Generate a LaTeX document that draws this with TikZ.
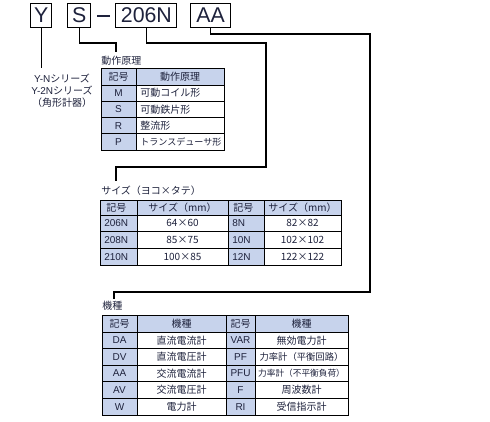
\documentclass[tikz,border=0pt]{standalone}
\usepackage{fontspec}
\setmainfont{Liberation Sans}
\newfontfamily\jp{Noto Sans CJK JP}
\definecolor{hdr}{RGB}{199,211,236}
\definecolor{ink}{RGB}{30,34,60}
\tikzset{
  codebox/.style={draw, line width=0.8pt, inner sep=0pt, minimum height=18pt, text=ink, font=\fontsize{16}{16}\selectfont},
  cell/.style={inner sep=0pt, text=ink, font=\fontsize{7.5}{8}\selectfont},
  ttl/.style={anchor=west, inner sep=0pt, text=ink, font=\jp\fontsize{7.5}{8}\selectfont},
  grid/.style={line width=0.6pt},
  conn/.style={line width=0.8pt},
}
\begin{document}
\begin{tikzpicture}[x=0.75pt,y=-0.75pt]
  \useasboundingbox (0,0) rectangle (490,422);
  %%%%%%%%%%%%%The code%%%%%%%%%%%%%%%%%%%%%%
  \node[codebox, minimum width=15.75pt] (Y) at (41.2,15.5) {Y};
  \node[codebox, minimum width=17.25pt] (S) at (79.2,15.5) {S};
  \node[inner sep=0pt, fill=ink, minimum width=9.75pt, minimum height=1.3pt] (dash) at (103.5,16) {};
  \node[codebox, minimum width=45.75pt] (N) at (146.4,15.5) {206N};
  \node[codebox, minimum width=30pt] (AA) at (210.7,15.5) {AA};

  \coordinate (yend) at (41.2,68);
  \coordinate (endA) at (116,52);
  \coordinate (endB) at (116,181);
  \coordinate (endC) at (114,299);
  \draw[conn] (Y.south) -- (yend);
  \draw[conn] (S.south) |- (116,43) -- (endA);
  \draw[conn] (N.south) |- (266,43) |- (116,167) -- (endB);
  \draw[conn] (AA.south) |- (370,34) |- (114,292) -- (endC);

  \node[align=center, inner sep=0pt, text=ink, font=\fontsize{7.5}{9}\selectfont] (ylab) at (62,91)
    {Y-N{\jp シリーズ}\\Y-2N{\jp シリーズ}\\{\jp （角形計器）}};

  %%%%%%%%%%%%%Operating principle%%%%%%%%%%%%%%%%%%%%%%
  \node[ttl] (lbA) at (101,61) {動作原理};
  \fill[hdr] (101,68) rectangle (224,85);
  \fill[hdr] (101,85) rectangle (136,150);
  \draw[grid] (101,68) rectangle (224,150);
  \draw[grid] (136,68) -- (136,150);
  \draw[grid] (101,85) -- (224,85);
  \draw[grid] (101,101.25) -- (224,101.25);
  \draw[grid] (101,117.5) -- (224,117.5);
  \draw[grid] (101,133.75) -- (224,133.75);

  \node[cell] (a0) at (118.5,76.5) {\jp 記号};
  \node[cell] (a0t) at (180,76.5) {\jp 動作原理};
  \node[cell] (a1) at (118.5,93.1) {M};
  \node[cell, anchor=west] (a1t) at (140,93.1) {\jp 可動コイル形};
  \node[cell] (a2) at (118.5,109.4) {S};
  \node[cell, anchor=west] (a2t) at (140,109.4) {\jp 可動鉄片形};
  \node[cell] (a3) at (118.5,125.6) {R};
  \node[cell, anchor=west] (a3t) at (140,125.6) {\jp 整流形};
  \node[cell] (a4) at (118.5,141.9) {P};
  \node[cell, anchor=west, font=\jp\fontsize{6.8}{8}\selectfont] (a4t) at (140,141.9) {トランスデューサ形};

  %%%%%%%%%%%%%Size%%%%%%%%%%%%%%%%%%%%%%
  \node[ttl] (lbB) at (101,191) {サイズ（ヨコ×タテ）};
  \fill[hdr] (100,200) rectangle (341,215);
  \fill[hdr] (100,215) rectangle (137,265);
  \fill[hdr] (228,215) rectangle (264,265);
  \draw[grid] (100,200) rectangle (341,265);
  \draw[grid] (137,200) -- (137,265);
  \draw[grid] (228,200) -- (228,265);
  \draw[grid] (264,200) -- (264,265);
  \draw[grid] (100,215) -- (341,215);
  \draw[grid] (100,231.7) -- (341,231.7);
  \draw[grid] (100,248.3) -- (341,248.3);

  \node[cell, anchor=west] (b0) at (106,207.5) {\jp 記号};
  \node[cell] (b0t) at (182.5,207.5) {\jp サイズ（mm）};
  \node[cell, anchor=west] (c0) at (233,207.5) {\jp 記号};
  \node[cell] (c0t) at (302.5,207.5) {\jp サイズ（mm）};
  \node[cell, anchor=west] (b1) at (104,223.3) {206N};
  \node[cell] (b1t) at (182.5,223.3) {\jp 64×60};
  \node[cell, anchor=west] (c1) at (232,223.3) {8N};
  \node[cell] (c1t) at (302.5,223.3) {\jp 82×82};
  \node[cell, anchor=west] (b2) at (104,240) {208N};
  \node[cell] (b2t) at (182.5,240) {\jp 85×75};
  \node[cell, anchor=west] (c2) at (232,240) {10N};
  \node[cell] (c2t) at (302.5,240) {\jp 102×102};
  \node[cell, anchor=west] (b3) at (104,256.6) {210N};
  \node[cell] (b3t) at (182.5,256.6) {\jp 100×85};
  \node[cell, anchor=west] (c3) at (232,256.6) {12N};
  \node[cell] (c3t) at (302.5,256.6) {\jp 122×122};

  %%%%%%%%%%%%%Type%%%%%%%%%%%%%%%%%%%%%%
  \node[ttl] (lbC) at (102,306) {機種};
  \fill[hdr] (102,315) rectangle (348,332);
  \fill[hdr] (102,332) rectangle (137,415);
  \fill[hdr] (226,332) rectangle (255,415);
  \draw[grid] (102,315) rectangle (348,415);
  \draw[grid] (137,315) -- (137,415);
  \draw[grid] (226,315) -- (226,415);
  \draw[grid] (255,315) -- (255,415);
  \draw[grid] (102,332) -- (348,332);
  \draw[grid] (102,348.6) -- (348,348.6);
  \draw[grid] (102,365.2) -- (348,365.2);
  \draw[grid] (102,381.8) -- (348,381.8);
  \draw[grid] (102,398.4) -- (348,398.4);

  \node[cell] (d0) at (119.5,323.5) {\jp 記号};
  \node[cell] (d0t) at (181.5,323.5) {\jp 機種};
  \node[cell] (e0) at (240.5,323.5) {\jp 記号};
  \node[cell] (e0t) at (301.5,323.5) {\jp 機種};
  \node[cell] (d1) at (119.5,340.3) {DA};
  \node[cell] (d1t) at (181.5,340.3) {\jp 直流電流計};
  \node[cell] (e1) at (240.5,340.3) {VAR};
  \node[cell] (e1t) at (301.5,340.3) {\jp 無効電力計};
  \node[cell] (d2) at (119.5,356.9) {DV};
  \node[cell] (d2t) at (181.5,356.9) {\jp 直流電圧計};
  \node[cell] (e2) at (240.5,356.9) {PF};
  \node[cell, font=\jp\fontsize{7}{8}\selectfont] (e2t) at (301.5,356.9) {力率計（平衡回路）};
  \node[cell] (d3) at (119.5,373.5) {AA};
  \node[cell] (d3t) at (181.5,373.5) {\jp 交流電流計};
  \node[cell] (e3) at (240.5,373.5) {PFU};
  \node[cell, font=\jp\fontsize{6.5}{8}\selectfont] (e3t) at (301.5,373.5) {力率計（不平衡負荷）};
  \node[cell] (d4) at (119.5,390.1) {AV};
  \node[cell] (d4t) at (181.5,390.1) {\jp 交流電圧計};
  \node[cell] (e4) at (240.5,390.1) {F};
  \node[cell] (e4t) at (301.5,390.1) {\jp 周波数計};
  \node[cell] (d5) at (119.5,406.7) {W};
  \node[cell] (d5t) at (181.5,406.7) {\jp 電力計};
  \node[cell] (e5) at (240.5,406.7) {RI};
  \node[cell] (e5t) at (301.5,406.7) {\jp 受信指示計};
\end{tikzpicture}
\end{document}
